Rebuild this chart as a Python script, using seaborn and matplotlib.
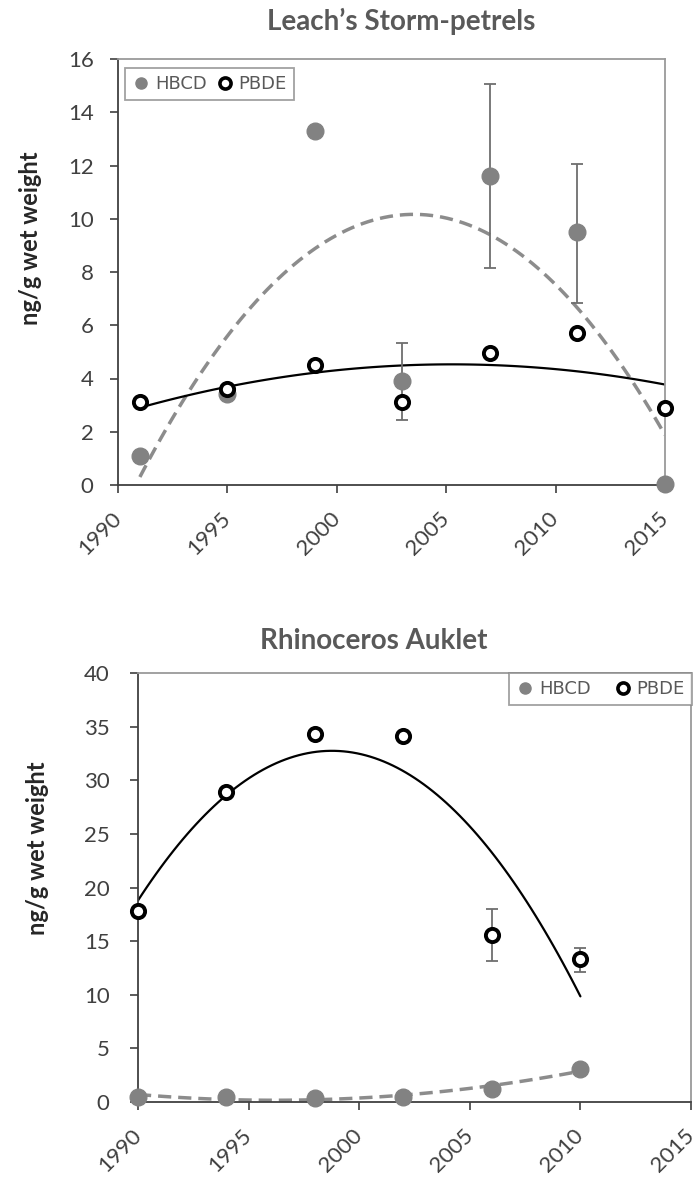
import numpy as np
import matplotlib
matplotlib.use("Agg")
import matplotlib.pyplot as plt
from matplotlib.lines import Line2D
import seaborn as sns

# Leach's Storm-petrels
petrel_years = [1991, 1995, 1999, 2003, 2007, 2011, 2015]
petrel_hbcd = [1.1, 3.4, 13.3, 3.9, 11.6, 9.5, 0.05]
petrel_hbcd_low = [np.nan, np.nan, np.nan, 2.45, 8.15, 6.85, np.nan]
petrel_hbcd_high = [np.nan, np.nan, np.nan, 5.35, 15.05, 12.05, np.nan]
petrel_pbde = [3.1, 3.6, 4.5, 3.1, 4.95, 5.7, 2.9]

# Rhinoceros Auklet
auklet_years = [1990, 1994, 1998, 2002, 2006, 2010]
auklet_hbcd = [0.5, 0.5, 0.4, 0.5, 1.2, 3.1]
auklet_pbde = [17.8, 28.9, 34.3, 34.1, 15.6, 13.3]
auklet_pbde_low = [np.nan, np.nan, np.nan, np.nan, 13.15, 12.15]
auklet_pbde_high = [np.nan, np.nan, np.nan, np.nan, 18.0, 14.4]

year_ticks = [1990, 1995, 2000, 2005, 2010, 2015]
series_names = ["HBCD", "PBDE"]
titles = ["Leach\u2019s Storm-petrels", "Rhinoceros Auklet"]
ylabel = "ng/g wet weight"

sns.set_style("white")
plt.rcParams["font.family"] = ["Lato", "DejaVu Sans"]

GRAY = "#828282"
DASH_GRAY = "#8c8c8c"
ERR = "#6e6e6e"
TXT = "#404040"

fig = plt.figure(figsize=(6.97, 11.79), dpi=100)
W, H = 697, 1179


def px_axes(left, top, right, bottom):
    return fig.add_axes([left / W, 1 - bottom / H, (right - left) / W, (bottom - top) / H])


ax1 = px_axes(118, 59, 665, 485)
ax2 = px_axes(138, 673, 691, 1102)


def draw_panel(ax, years, hbcd, pbde, err_series, err_low, err_high):
    # quadratic trend lines
    sns.regplot(x=np.array(years, float), y=np.array(hbcd), order=2, ci=None,
                scatter=False, truncate=True, ax=ax,
                line_kws=dict(color=DASH_GRAY, lw=2.5, dashes=(3.8, 2.0), zorder=2))
    sns.regplot(x=np.array(years, float), y=np.array(pbde), order=2, ci=None,
                scatter=False, truncate=True, ax=ax,
                line_kws=dict(color="black", lw=1.6, zorder=2))
    # error bars
    y = np.array(err_series, float)
    lo = np.array(err_low, float)
    hi = np.array(err_high, float)
    mask = ~np.isnan(lo)
    yr = np.array(years, float)[mask]
    ax.errorbar(yr, y[mask], yerr=[y[mask] - lo[mask], hi[mask] - y[mask]],
                fmt="none", ecolor=ERR, elinewidth=1.3, capsize=4, capthick=1.3,
                zorder=3)
    # data points
    ax.plot(years, hbcd, ls="none", marker="o", ms=12, mfc=GRAY, mec=GRAY,
            zorder=4, clip_on=False)
    ax.plot(years, pbde, ls="none", marker="o", ms=9.5, mfc="white", mec="black",
            mew=2.8, zorder=5, clip_on=False)


draw_panel(ax1, petrel_years, petrel_hbcd, petrel_pbde,
           petrel_hbcd, petrel_hbcd_low, petrel_hbcd_high)
draw_panel(ax2, auklet_years, auklet_hbcd, auklet_pbde,
           auklet_pbde, auklet_pbde_low, auklet_pbde_high)

ax1.set_ylim(0, 16)
ax1.set_yticks(np.arange(0, 17, 2))
ax2.set_ylim(0, 40)
ax2.set_yticks(np.arange(0, 41, 5))

for ax, ypad in ((ax1, 12), (ax2, 15)):
    ax.set_xlim(1990, 2015)
    ax.set_xticks(year_ticks)
    ax.set_xticklabels([str(t) for t in year_ticks], rotation=45, ha="right",
                       va="center", rotation_mode="anchor")
    ax.tick_params(axis="both", direction="out", length=5.5, width=1.2,
                   color="#404040", labelsize=16, labelcolor=TXT,
                   left=True, bottom=True)
    ax.tick_params(axis="y", pad=ypad)
    ax.tick_params(axis="x", pad=16)
    for side in ("left", "bottom"):
        ax.spines[side].set_color("#404040")
        ax.spines[side].set_linewidth(1.3)
    for side in ("top", "right"):
        ax.spines[side].set_color("#9a9a9a")
        ax.spines[side].set_linewidth(1.3)
    ax.set_xlabel("")
    ax.set_ylabel(ylabel, fontsize=17, fontweight="bold", color="#262626")

ax1.yaxis.set_label_coords((42 - 118) / 547, (485 - 238) / 426)
ax2.yaxis.set_label_coords((49 - 138) / 553, (1102 - 848) / 429)

fig.text(401 / W, 1 - 21 / H, titles[0], ha="center", va="center",
         fontsize=20, fontweight="bold", color="#595959")
fig.text(374 / W, 1 - 641 / H, titles[1], ha="center", va="center",
         fontsize=20, fontweight="bold", color="#595959")

handles = [
    Line2D([], [], ls="none", marker="o", ms=8, mfc=GRAY, mec=GRAY),
    Line2D([], [], ls="none", marker="o", ms=8, mfc="white", mec="black", mew=2.6),
]
for ax, loc, anchor, colsp in ((ax1, "upper left", (0.013, 0.979), 0.5),
                               (ax2, "upper right", (1.002, 1.0), 1.3)):
    leg = ax.legend(handles, series_names, loc=loc, bbox_to_anchor=anchor,
                    ncol=2, frameon=True, fancybox=False,
                    prop=dict(family="DejaVu Sans", size=13),
                    handletextpad=0.25, columnspacing=colsp, handlelength=1.0,
                    borderpad=0.4, borderaxespad=0)
    leg.get_frame().set_edgecolor("#8a8a8a")
    leg.get_frame().set_linewidth(1.3)
    for t in leg.get_texts():
        t.set_color("#595959")

fig.savefig("out.png", dpi=100)
